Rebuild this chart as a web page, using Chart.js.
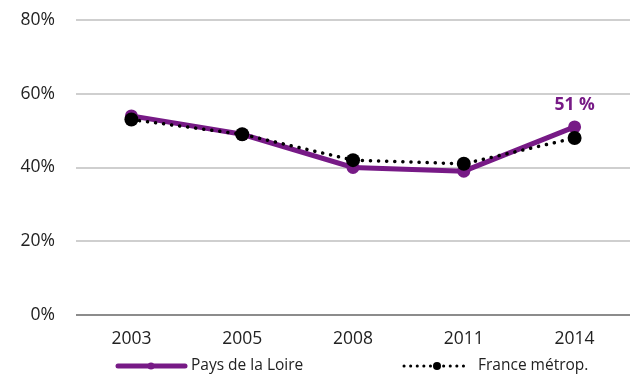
<!DOCTYPE html>
<html>
<head>
<meta charset="utf-8">
<script src="https://cdn.jsdelivr.net/npm/chart.js@4/dist/chart.umd.min.js"></script>
<style>
  html, body { margin: 0; padding: 0; background: #fff; }
  #wrap { width: 630px; height: 376px; }
</style>
</head>
<body>
<div id="wrap"><canvas id="lineChart"></canvas></div>
<script>
var years = ['2003', '2005', '2008', '2011', '2014'];
var paysLoire = [54, 49, 40, 39, 51];
var franceMetrop = [53, 49, 42, 41, 48];
var yTicks = [0, 20, 40, 60, 80];

var purple = '#771a86';

// legend + label drawn by hand, like the original
var extras = {
    id: 'extras',
    afterDatasetsDraw: function (chart) {
        var c = chart.ctx;
        var meta = chart.getDatasetMeta(1);
        var last = meta.data[meta.data.length - 1];
        c.save();
        c.font = 'bold 17.5px "Open Sans"';
        c.fillStyle = purple;
        c.textAlign = 'center';
        c.textBaseline = 'middle';
        c.fillText(paysLoire[paysLoire.length - 1] + ' %', last.x, last.y - 22);

        var ly = chart.height - 10;
        // Pays de la Loire
        c.strokeStyle = purple;
        c.lineWidth = 5;
        c.lineCap = 'round';
        c.beginPath();
        c.moveTo(118, ly);
        c.lineTo(185, ly);
        c.stroke();
        c.fillStyle = purple;
        c.beginPath();
        c.arc(151, ly, 3.5, 0, Math.PI * 2);
        c.fill();
        c.fillStyle = '#222';
        c.font = '15.5px "Open Sans"';
        c.textAlign = 'left';
        c.fillText('Pays de la Loire', 191, ly);

        // France
        c.strokeStyle = '#000';
        c.lineWidth = 3;
        c.setLineDash([0.1, 6.5]);
        c.beginPath();
        c.moveTo(404, ly);
        c.lineTo(468, ly);
        c.stroke();
        c.setLineDash([]);
        c.fillStyle = '#000';
        c.beginPath();
        c.arc(437, ly, 4, 0, Math.PI * 2);
        c.fill();
        c.fillStyle = '#222';
        c.fillText('France métrop.', 478, ly);
        c.restore();
    }
};

var ctx = document.getElementById('lineChart').getContext('2d');
var myChart = new Chart(ctx, {
    type: 'line',
    data: {
        labels: years,
        datasets: [{
            label: 'France métrop.',
            data: franceMetrop,
            borderColor: '#000',
            backgroundColor: '#000',
            borderWidth: 3.5,
            borderDash: [0.1, 8],
            borderCapStyle: 'round',
            pointRadius: 7,
            pointHoverRadius: 7,
            pointBorderWidth: 0,
            order: 0
        }, {
            label: 'Pays de la Loire',
            data: paysLoire,
            borderColor: purple,
            backgroundColor: purple,
            borderWidth: 5,
            pointRadius: 6.5,
            pointHoverRadius: 6.5,
            pointBorderWidth: 0,
            order: 1
        }]
    },
    options: {
        responsive: true,
        maintainAspectRatio: false,
        animation: false,
        layout: { autoPadding: false, padding: { top: 20, right: 0, bottom: 20, left: 0 } },
        plugins: {
            legend: { display: false },
            tooltip: { enabled: false }
        },
        scales: {
            x: {
                offset: true,
                grid: { display: false },
                border: { display: false },
                afterFit: function (scale) {
                    scale.paddingLeft = 0;
                    scale.paddingRight = 0;
                },
                ticks: {
                    color: '#222',
                    padding: 6,
                    font: { family: 'Open Sans', size: 17.5 }
                }
            },
            y: {
                min: 0,
                max: 80,
                afterBuildTicks: function (scale) {
                    scale.ticks = yTicks.map(function (v) { return { value: v }; });
                },
                afterFit: function (scale) {
                    scale.width = 76;
                    scale.paddingTop = 0;
                    scale.paddingBottom = 0;
                },
                border: { display: false },
                grid: {
                    drawTicks: false,
                    lineWidth: 2,
                    color: function (c) { return c.tick.value === 0 ? '#8c8c8c' : '#cfcfcf'; }
                },
                ticks: {
                    color: '#222',
                    padding: 21,
                    font: { family: 'Open Sans', size: 17.5 },
                    callback: function (v) { return v + '%'; }
                }
            }
        }
    },
    plugins: [extras]
});
</script>
</body>
</html>
